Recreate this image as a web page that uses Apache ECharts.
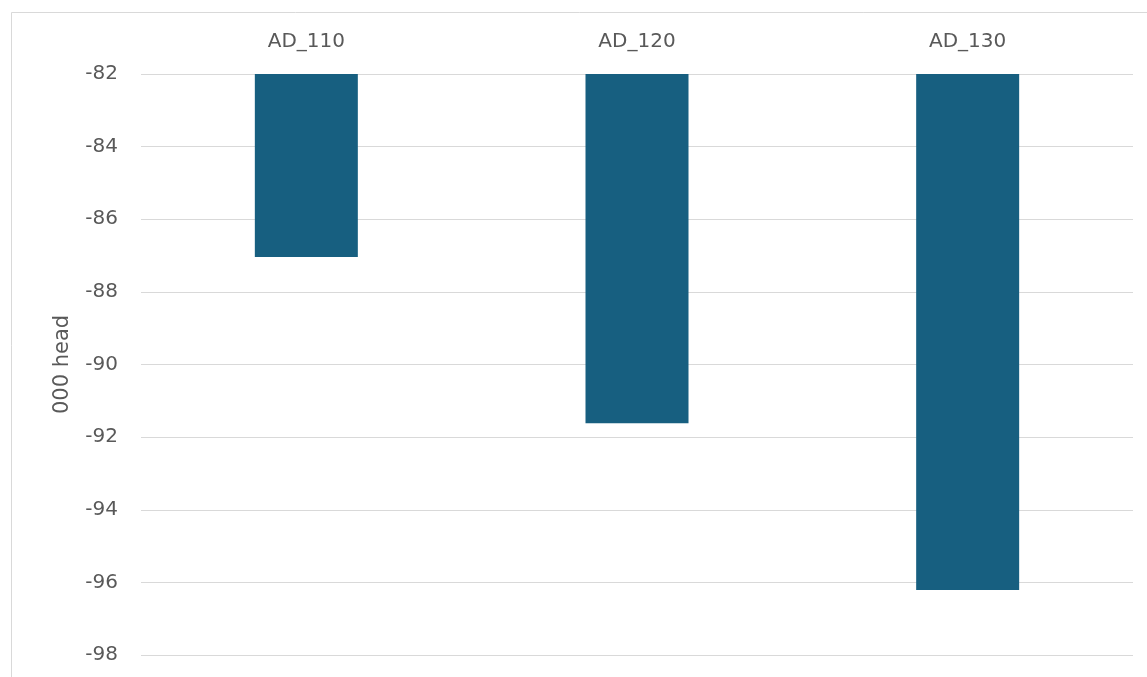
<!DOCTYPE html>
<html><head><meta charset="utf-8">
<script src="https://cdn.jsdelivr.net/npm/echarts@6/dist/echarts.min.js"></script>
<style>html,body{margin:0;padding:0;background:#fff}#c{width:1147px;height:677px}</style>
</head><body><div id="c"></div>
<script>
const categories = ["AD_110", "AD_120", "AD_130"];
const values = [-87.04, -91.62, -96.21];
const yTicks = { min: -98, max: -82, interval: 2 };
const axisName = "000 head";

const FONT = '"DejaVu Sans", sans-serif';
const chart = echarts.init(document.getElementById('c'), null, {renderer: 'canvas'});
chart.setOption({
  animation: false,
  backgroundColor: '#ffffff',
  graphic: [{
    type: 'rect', silent: true,
    shape: {x: 11.5, y: 12.5, width: 1300, height: 800},
    style: {fill: 'none', stroke: '#d9d9d9', lineWidth: 1},
    z: -10
  }],
  grid: {left: 141, right: 14, top: 74, bottom: 22, containLabel: false},
  xAxis: {
    type: 'category', data: categories, position: 'top',
    axisLine: {show: false}, axisTick: {show: false},
    axisLabel: {color: '#595959', fontSize: 20, margin: 22, fontFamily: FONT}
  },
  yAxis: {
    type: 'value', min: yTicks.min, max: yTicks.max, interval: yTicks.interval,
    name: axisName, nameLocation: 'middle', nameRotate: 90, nameGap: 68,
    nameTextStyle: {color: '#595959', fontSize: 21, fontFamily: FONT},
    axisLine: {show: false}, axisTick: {show: false},
    axisLabel: {color: '#595959', fontSize: 20, margin: 23, fontFamily: FONT, padding: [2, 0, 0, 0]},
    splitLine: {lineStyle: {color: '#d9d9d9', width: 1}}
  },
  series: [{
    type: 'bar', data: values, barWidth: 103,
    itemStyle: {color: '#175f80'}
  }]
});
</script></body></html>
